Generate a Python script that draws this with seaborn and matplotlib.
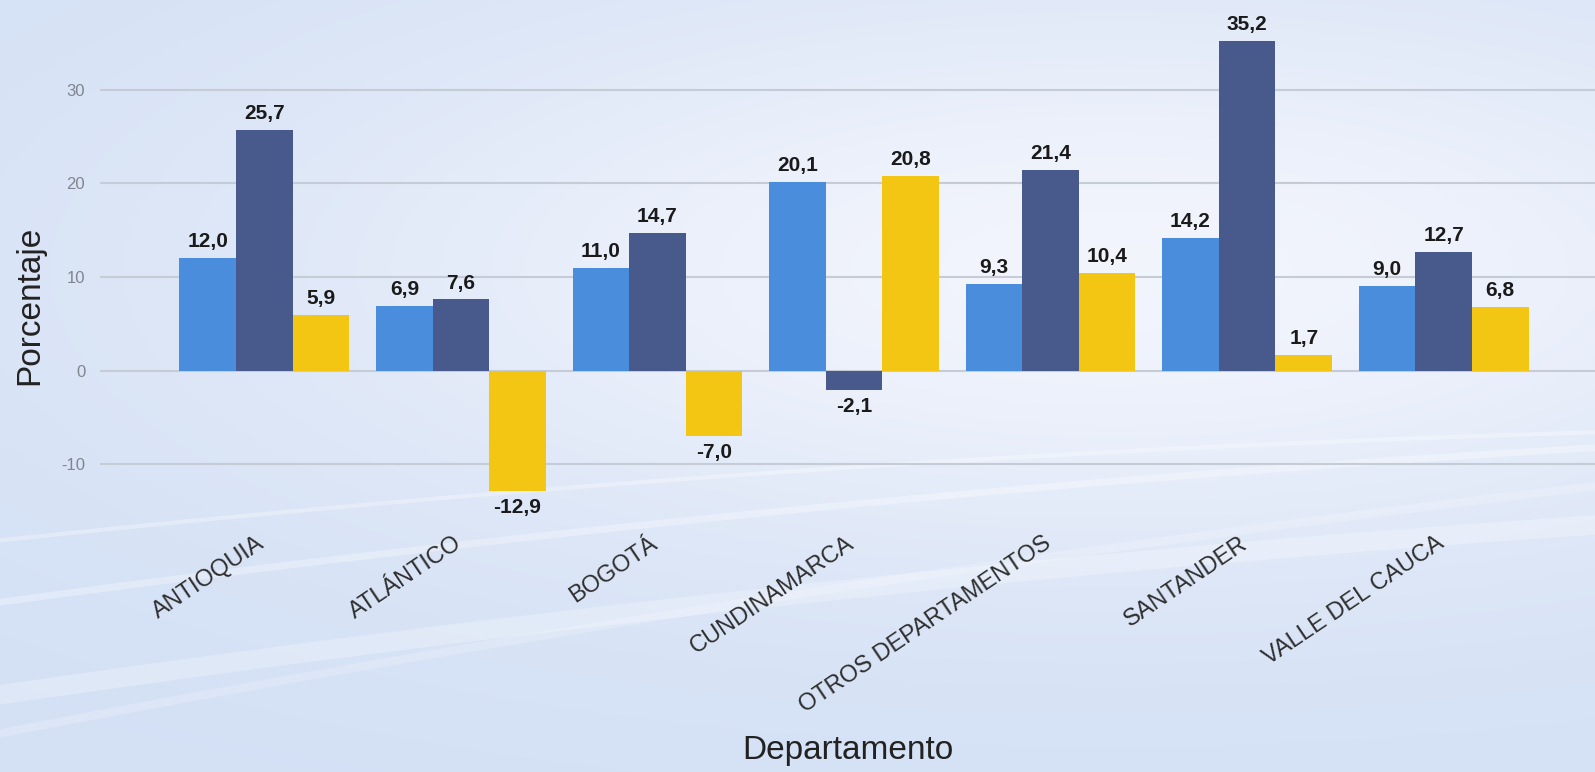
import numpy as np
import pandas as pd
import matplotlib
matplotlib.use('Agg')
import matplotlib.pyplot as plt
from matplotlib.transforms import ScaledTranslation
import seaborn as sns

# Chart data
departamentos = ['ANTIOQUIA', 'ATLÁNTICO', 'BOGOTÁ', 'CUNDINAMARCA',
                 'OTROS DEPARTAMENTOS', 'SANTANDER', 'VALLE DEL CAUCA']
serie_1 = [12.0, 6.9, 11.0, 20.1, 9.3, 14.2, 9.0]
serie_2 = [25.7, 7.6, 14.7, -2.1, 21.4, 35.2, 12.7]
serie_3 = [5.9, -12.9, -7.0, 20.8, 10.4, 1.7, 6.8]
series_names = ['Serie 1', 'Serie 2', 'Serie 3']
colors = ['#4a8ddc', '#485a8c', '#f3c614']

# long format for seaborn
rows = []
for name, vals in zip(series_names, [serie_1, serie_2, serie_3]):
    for dep, v in zip(departamentos, vals):
        rows.append({'Departamento': dep, 'Porcentaje': v, 'Serie': name})
df = pd.DataFrame(rows)

sns.set_style('white')
plt.rcParams['font.family'] = ['Liberation Sans', 'DejaVu Sans']
plt.rcParams['axes.unicode_minus'] = False

fig = plt.figure(figsize=(15.95, 7.72), dpi=100)

# background: soft blue gradient with light streaks
bg = fig.add_axes([0, 0, 1, 1], zorder=0)
h, w = 386, 800
yy, xx = np.mgrid[0:1:h * 1j, 0:1:w * 1j]
glow = np.exp(-(((xx - 0.7) ** 2) / 0.3 + ((yy - 0.35) ** 2) / 0.15))
blue = np.array([0.83, 0.88, 0.96])
white = np.array([0.95, 0.96, 0.99])
img = blue + (white - blue) * glow[..., None]
bg.imshow(img, extent=[0, 1, 0, 1], aspect='auto', origin='upper')
t = np.linspace(0, 1, 200)
for y0, k, lw, a in [(0.10, 0.30, 14, 0.25), (0.22, 0.28, 5, 0.3),
                     (0.30, 0.22, 3, 0.3), (0.05, 0.40, 6, 0.2)]:
    bg.plot(t, y0 + k * t - 0.08 * t ** 2, color='white', lw=lw, alpha=a,
            solid_capstyle='round')
bg.set_xlim(0, 1)
bg.set_ylim(0, 1)
bg.axis('off')

ax = fig.add_axes([0.063, 0.35, 0.937, 0.637], zorder=1)
ax.patch.set_alpha(0)

sns.barplot(data=df, x='Departamento', y='Porcentaje', hue='Serie',
            palette=colors, width=0.864, gap=0, saturation=1,
            linewidth=0, legend=False, ax=ax)

for cont, vals in zip(ax.containers, [serie_1, serie_2, serie_3]):
    ax.bar_label(cont, labels=[f'{v:.1f}'.replace('.', ',') for v in vals],
                 padding=5, fontsize=15, fontweight='bold', color='#1a1a1a',
                 family=['Liberation Sans Narrow', 'Liberation Sans', 'DejaVu Sans'])

ax.set_ylim(-14, 38.5)
ax.set_xlim(-0.834, 6.77)
ax.set_yticks([-10, 0, 10, 20, 30])
ax.yaxis.grid(True, color='#c6ccd6', lw=1.5)
ax.set_axisbelow(True)
for s in ax.spines.values():
    s.set_visible(False)
ax.tick_params(axis='both', length=0)
ax.tick_params(axis='y', labelsize=12, labelcolor='#80858f', pad=11)
ax.set_xticks(range(len(departamentos)))
ax.set_xticklabels(departamentos, rotation=34, ha='right',
                   rotation_mode='anchor', fontsize=17, color='#2e2e2e')
ax.tick_params(axis='x', pad=22)
shift = ScaledTranslation(-8 / 100, 0, fig.dpi_scale_trans)
for lab in ax.get_xticklabels():
    lab.set_transform(lab.get_transform() + shift)

ax.set_xlabel('Departamento', fontsize=24, color='#222222')
ax.xaxis.set_label_coords(0.5, -0.475)
ax.set_ylabel('Porcentaje', fontsize=24, color='#222222')
ax.yaxis.set_label_coords(-0.037, 0.40)

fig.savefig('out.png', dpi=100)
